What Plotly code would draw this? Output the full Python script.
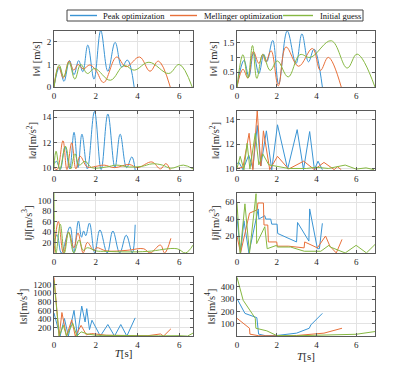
import plotly.graph_objects as go

# ---------------- data ----------------
series_names = ["Peak optimization", "Mellinger optimization", "Initial guess"]
colors = ["#3a94d4", "#e8703a", "#86b842"]

# ||v|| left
vL_peak_t = [0, 0.26, 0.48, 0.74, 0.96, 1.18, 1.38, 1.62, 1.92, 2.24, 2.58, 2.93, 3.25, 3.52, 3.84]
vL_peak_v = [0, 0.88, 0.25, 1.18, 0.55, 1.17, 0.68, 1.86, 0.35, 2.5, 0.7, 1.98, 0.88, 1.2, 0]
vL_mel_t = [0, 0.22, 0.45, 0.72, 0.95, 1.15, 1.4, 1.72, 2.0, 2.38, 3.0, 3.45, 4.1, 4.6, 5.0, 5.57]
vL_mel_v = [0, 0.9, 0.4, 1.15, 0.75, 1.0, 0.8, 0.98, 0.75, 0.2, 1.33, 0.9, 1.33, 0.7, 1.15, 0]
vL_ini_t = [0, 0.25, 0.47, 0.72, 1.0, 1.28, 1.6, 1.95, 2.7, 3.35, 3.85, 4.55, 5.5, 6.0, 6.62]
vL_ini_v = [0, 0.97, 0.45, 1.1, 0.35, 1.0, 0.6, 0.82, 0.3, 0.95, 0.75, 1.1, 0.6, 1.0, 0]

# ||v|| right
vR_peak_t = [0, 0.35, 0.6, 0.83, 1.1, 1.35, 1.5, 1.8, 2.1, 2.53, 2.97, 3.27, 3.6, 3.88, 4.3]
vR_peak_v = [0, 0.9, 0.35, 1.15, 0.45, 1.1, 0.85, 1.57, 0.1, 1.89, 0.79, 1.79, 0.85, 1.28, 0]
vR_mel_t = [0, 0.3, 0.55, 0.82, 1.1, 1.3, 1.45, 1.72, 2.08, 2.47, 3.1, 3.8, 4.2, 4.6, 5.25]
vR_mel_v = [0, 0.6, 0.3, 1.2, 0.8, 1.1, 0.85, 1.22, 0.04, 1.35, 0.7, 1.3, 0.56, 1.0, 0]
vR_ini_t = [0, 0.3, 0.55, 0.78, 1.0, 1.3, 1.67, 2.03, 2.58, 3.17, 3.7, 4.75, 5.55, 6.05, 6.95]
vR_ini_v = [0, 1.09, 0.3, 1.4, 0.29, 1.1, 0.56, 0.88, 0.34, 1.09, 1.0, 1.56, 0.64, 1.11, 0]

# ||a|| left
aL_peak_t = [0, 0.12, 0.3, 0.53, 0.75, 0.96, 1.15, 1.34, 1.6, 1.94, 2.26, 2.58, 2.92, 3.17, 3.48, 3.73, 3.89]
aL_peak_v = [10.3, 10.5, 9.85, 11.65, 9.9, 12.8, 10.0, 12.65, 9.9, 14.45, 9.85, 14.25, 10.0, 12.65, 10.0, 10.85, 9.8]
aL_mel_t = [0, 0.15, 0.43, 0.62, 0.85, 1.05, 1.25, 1.6, 2.0, 2.4, 2.9, 3.6, 4.0, 4.69, 5.1, 5.36, 5.57]
aL_mel_v = [10.0, 9.85, 12.13, 9.85, 11.97, 9.9, 10.9, 10.05, 10.1, 10.2, 10.0, 10.25, 10.0, 10.45, 9.9, 10.32, 9.8]
aL_ini_t = [0, 0.1, 0.28, 0.55, 0.8, 1.0, 1.2, 1.5, 1.8, 2.5, 3.0, 3.6, 4.2, 4.7, 5.2, 5.6, 6.2, 6.66]
aL_ini_v = [10.0, 11.3, 9.85, 11.7, 9.9, 11.1, 10.2, 10.5, 10.0, 10.05, 10.2, 10.05, 10.1, 10.3, 10.2, 9.95, 10.2, 9.9]

# ||a|| right
aR_peak_t = [0, 0.1, 0.3, 0.59, 0.8, 1.02, 1.2, 1.48, 1.75, 2.04, 2.55, 3.03, 3.35, 3.66, 3.9, 4.08, 4.3]
aR_peak_v = [10.4, 10.5, 9.9, 11.1, 10.0, 13.54, 10.2, 13.1, 9.9, 13.6, 9.95, 13.2, 9.9, 13.04, 9.9, 10.6, 9.9]
aR_mel_t = [0, 0.3, 0.61, 0.8, 1.02, 1.2, 1.33, 1.65, 2.04, 2.6, 3.36, 3.9, 4.38, 4.9, 5.05, 5.25]
aR_mel_v = [10.0, 10.1, 12.9, 9.9, 14.75, 10.2, 13.1, 9.9, 11.0, 9.95, 10.6, 9.9, 10.5, 9.9, 10.15, 9.9]
aR_ini_t = [0, 0.16, 0.35, 0.51, 0.65, 0.92, 1.1, 1.3, 1.6, 2.0, 2.6, 3.5, 4.0, 4.6, 5.45, 6.0, 6.5, 6.9]
aR_ini_v = [10.0, 11.0, 9.9, 12.07, 9.95, 12.9, 10.3, 11.2, 10.3, 10.2, 10.0, 10.0, 10.1, 10.0, 10.28, 9.95, 10.05, 9.9]

# ||j|| left
jL_peak_t = [0, 0.15, 0.35, 0.77, 0.95, 1.17, 1.32, 1.42, 1.52, 1.7, 1.95, 2.2, 2.55, 2.82, 3.15, 3.46, 3.75, 3.89]
jL_peak_v = [20, 35, 0, 50, 0, 61, 30, 42, 33, 57, 0, 44, 0, 42, 0, 34, 0, 54]
jL_mel_t = [0, 0.21, 0.45, 0.7, 0.95, 1.15, 1.4, 1.6, 1.9, 2.05, 2.5, 3.5, 4.3, 4.6, 5.1, 5.3, 5.6]
jL_mel_v = [0, 60, 0, 40, 10, 38, 0, 20, 5, 10, 4, 5, 8, 0, 15, 0, 28]
jL_ini_t = [0, 0.1, 0.3, 0.5, 0.7, 0.95, 1.2, 1.4, 1.6, 2.0, 2.5, 3.5, 4.5, 5.9, 6.3, 6.66]
jL_ini_v = [115, 0, 55, 0, 40, 0, 25, 5, 10, 4, 3, 2, 3, 8, 0, 15]

# ||j|| right
jR_peak_t = [0, 0.18, 0.35, 0.6, 1.07, 1.1, 1.4, 1.45, 1.7, 1.75, 2.02, 2.05, 3.0, 3.05, 3.62, 3.66, 4.05, 4.15, 4.3]
jR_peak_v = [42, 0, 38, 0, 52, 40, 44, 40, 40, 34, 34, 23, 13, 36, 14, 52, 5, 5, 35]
jR_mel_t = [0, 0.18, 0.63, 1.02, 1.05, 1.33, 1.36, 1.55, 1.58, 2.0, 2.03, 2.6, 3.38, 3.41, 4.05, 4.46, 4.68, 5.0, 5.29]
jR_mel_v = [20, 0, 47, 51, 59, 59, 33, 33, 13, 13, 8, 8, 6, 13, 6, 20, 8, 0, 16]
jR_ini_t = [0, 0.16, 0.4, 0.63, 0.96, 0.99, 1.4, 1.52, 2.0, 2.03, 2.7, 3.39, 4.22, 4.63, 4.7, 5.45, 6.0, 6.52, 6.95]
jR_ini_v = [59, 0, 58, 0, 70, 11, 31, 5, 9, 7, 7, 2, 2, 9, 7, 0, 9, 0, 10]

# ||s|| left
sL_peak_t = [0, 0.29, 0.5, 0.69, 0.96, 1.12, 1.33, 1.49, 1.57, 1.7, 1.82, 2.22, 2.58, 2.9, 3.2, 3.49, 3.89]
sL_peak_v = [540, 0, 410, 0, 600, 0, 700, 330, 640, 150, 370, 0, 270, 0, 270, 0, 425]
sL_mel_t = [0, 0.25, 0.38, 0.6, 0.85, 1.02, 1.3, 1.55, 1.8, 2.5, 3.5, 4.5, 5.1, 5.25, 5.6]
sL_mel_v = [1375, 0, 550, 0, 380, 0, 250, 30, 60, 20, 15, 10, 50, 0, 170]
sL_ini_t = [0, 0.25, 0.45, 0.6, 0.9, 1.1, 1.3, 1.6, 2.0, 3.0, 4.0, 5.0, 6.0, 6.4, 6.66]
sL_ini_v = [1300, 0, 250, 0, 300, 0, 100, 50, 20, 10, 5, 5, 10, 0, 70]

# ||s|| right
sR_peak_t = [0, 0.4, 1.0, 1.09, 1.45, 2.0, 3.0, 3.64, 3.72, 4.3]
sR_peak_v = [305, 185, 150, 16, 3, 5, 24, 64, 91, 185]
sR_mel_t = [0, 0.63, 0.65, 1.09, 2.0, 3.0, 4.38, 5.29]
sR_mel_v = [145, 64, 16, 3, 2, 5, 24, 64]
sR_ini_t = [0, 0.31, 0.92, 0.95, 1.5, 1.99, 3.0, 4.0, 5.0, 6.0, 6.95]
sR_ini_v = [480, 292, 145, 64, 43, 5, 3, 5, 8, 15, 37]

x_ticks = [0, 2, 4, 6]
panels = [
    # (series, smooth?, y range, y ticks, y title, x max)
    ([(vL_peak_t, vL_peak_v), (vL_mel_t, vL_mel_v), (vL_ini_t, vL_ini_v)], True, [0, 2.5], [0, 1, 2],
     "‖<i>v</i>‖ [m/s]", 6.66),
    ([(vR_peak_t, vR_peak_v), (vR_mel_t, vR_mel_v), (vR_ini_t, vR_ini_v)], True, [0, 1.9], [0, 0.5, 1, 1.5],
     "‖<i>v</i>‖ [m/s]", 6.95),
    ([(aL_peak_t, aL_peak_v), (aL_mel_t, aL_mel_v), (aL_ini_t, aL_ini_v)], True, [9.8, 14.5], [10, 12, 14],
     "‖<i>a</i>‖[m/s<sup>2</sup>]", 6.66),
    ([(aR_peak_t, aR_peak_v), (aR_mel_t, aR_mel_v), (aR_ini_t, aR_ini_v)], False, [9.86, 14.75], [10, 12, 14],
     "‖<i>a</i>‖[m/s<sup>2</sup>]", 6.95),
    ([(jL_peak_t, jL_peak_v), (jL_mel_t, jL_mel_v), (jL_ini_t, jL_ini_v)], True, [0, 115], [20, 40, 60, 80, 100],
     "‖<i>j</i>‖[m/s<sup>3</sup>]", 6.66),
    ([(jR_peak_t, jR_peak_v), (jR_mel_t, jR_mel_v), (jR_ini_t, jR_ini_v)], False, [0, 71], [20, 40, 60],
     "‖<i>j</i>‖[m/s<sup>3</sup>]", 6.95),
    ([(sL_peak_t, sL_peak_v), (sL_mel_t, sL_mel_v), (sL_ini_t, sL_ini_v)], False, [0, 1375],
     [200, 400, 600, 800, 1000, 1200], "‖<i>s</i>‖[m/s<sup>4</sup>]", 6.66),
    ([(sR_peak_t, sR_peak_v), (sR_mel_t, sR_mel_v), (sR_ini_t, sR_ini_v)], False, [0, 480], [100, 200, 300, 400],
     "‖<i>s</i>‖[m/s<sup>4</sup>]", 6.95),
]

# domains (the page body adds an 8px offset, compensated here)
x_domains = [[0.1108, 0.4458], [0.5518, 0.8843]]
y_domains = [[0.791, 0.940], [0.571, 0.728], [0.352, 0.511], [0.132, 0.288]]

FONT = "Liberation Serif, Times New Roman, DejaVu Serif, serif"
TXT = "#262626"
fig = go.Figure()
layout = {}
for i, (series, smooth, yr, yt, ytitle, xmax) in enumerate(panels):
    n = i + 1
    row, col = divmod(i, 2)
    xa = "x" if n == 1 else f"x{n}"
    ya = "y" if n == 1 else f"y{n}"
    for k, (t, v) in enumerate(series):
        fig.add_trace(go.Scatter(
            x=t, y=v, mode="lines", name=series_names[k], legendgroup=series_names[k],
            line=dict(color=colors[k], width=1,
                      shape="spline" if smooth else "linear", smoothing=1.1),
            xaxis=xa, yaxis=ya, showlegend=False,
        ))
    axis_common = dict(showline=True, linecolor="#5a5a5a", linewidth=1, mirror="ticks",
                       ticks="inside", ticklen=3, tickcolor="#5a5a5a",
                       showgrid=True, gridcolor="#e3e3e3", gridwidth=1, zeroline=False,
                       automargin=False,
                       tickfont=dict(family=FONT, size=9, color=TXT))
    xkw = dict(domain=x_domains[col], anchor=ya, range=[0, xmax], tickvals=x_ticks, **axis_common)
    if row == 3:
        xkw["title"] = dict(text="<i>T</i>[s]", font=dict(family=FONT, size=11, color=TXT), standoff=0)
    layout["xaxis" if n == 1 else f"xaxis{n}"] = xkw
    layout["yaxis" if n == 1 else f"yaxis{n}"] = dict(
        domain=y_domains[row], anchor=xa, range=yr, tickvals=yt,
        title=dict(text=ytitle, font=dict(family=FONT, size=10.5, color=TXT), standoff=3),
        **axis_common)

# compact one-line legend box (Plotly's own legend is too tall for this layout)
W, H = 415.0, 378.0
def px(x):
    return x / W
def py(y):
    return 1 - y / H
leg_box = (59, 2, 355, 13)           # svg pixels: left, top, right, bottom
leg_lines = [(62, 89), (162, 189), (275, 305)]
leg_text_x = [93, 194, 310]
leg_y = 7.5
shapes = [dict(type="rect", xref="paper", yref="paper",
               x0=px(leg_box[0]), x1=px(leg_box[2]), y0=py(leg_box[3]), y1=py(leg_box[1]),
               line=dict(color="#444444", width=1), fillcolor="white", layer="above")]
annotations = []
for k in range(3):
    shapes.append(dict(type="line", xref="paper", yref="paper",
                       x0=px(leg_lines[k][0]), x1=px(leg_lines[k][1]), y0=py(leg_y), y1=py(leg_y),
                       line=dict(color=colors[k], width=1.4), layer="above"))
    annotations.append(dict(xref="paper", yref="paper", x=px(leg_text_x[k]), y=py(leg_y),
                            xanchor="left", yanchor="middle", showarrow=False,
                            text=series_names[k], font=dict(family=FONT, size=8.5, color="#111111")))

fig.update_layout(
    **layout,
    width=415, height=378,
    margin=dict(l=0, r=0, t=0, b=0, autoexpand=False),
    paper_bgcolor="white", plot_bgcolor="white",
    showlegend=False,
    shapes=shapes, annotations=annotations,
)
fig.write_html("out.html")
